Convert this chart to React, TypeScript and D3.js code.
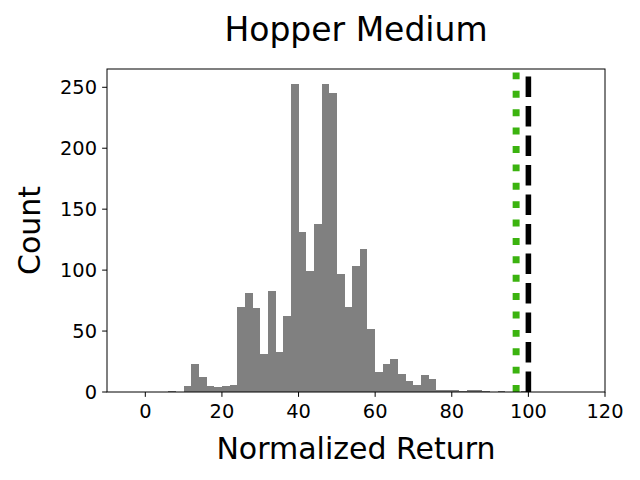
import React from "react";
import * as d3 from "d3";

const binStart = 6;
const binWidth = 2;
const counts = [
  1, 0, 5, 23, 12, 5, 4, 5, 6, 70, 81, 69, 31, 83, 33, 62, 253, 131, 99, 138,
  253, 245, 97, 70, 103, 117, 52, 16, 23, 27, 15, 9, 6, 14, 11, 2, 2, 2, 1, 2,
  2, 1, 0, 1, 0, 0, 1,
];
const xTicks = [0, 20, 40, 60, 80, 100, 120];
const yTicks = [0, 50, 100, 150, 200, 250];
const greenLine = 96.8;
const blackLine = 100;
const title = "Hopper Medium";
const xLabel = "Normalized Return";
const yLabel = "Count";

const W = 640;
const H = 480;
const m = { left: 107, right: 605, top: 69, bottom: 392 };
const font = "DejaVu Sans, sans-serif";

export default function App() {
  const x = d3.scaleLinear().domain([-10, 120]).range([m.left, m.right]);
  const y = d3.scaleLinear().domain([0, 265]).range([m.bottom, m.top]);
  const bins = counts.map((c, i) => ({ x0: binStart + i * binWidth, x1: binStart + (i + 1) * binWidth, c }));
  return (
    <svg width={W} height={H} style={{ display: "block", position: "absolute", left: 0, top: 0 }} fontFamily={font}>
      <rect width={W} height={H} fill="#fff" />
      <defs>
        <clipPath id="plot">
          <rect x={m.left} y={m.top} width={m.right - m.left} height={m.bottom - m.top} />
        </clipPath>
      </defs>
      <g shapeRendering="crispEdges">
        {bins.filter((b) => b.c > 0).map((b, i) => (
          <rect key={i} x={x(b.x0)} y={y(b.c)} width={x(b.x1) - x(b.x0)} height={y(0) - y(b.c)} fill="#808080" />
        ))}
      </g>
      <g clipPath="url(#plot)">
        <line x1={x(greenLine)} x2={x(greenLine)} y1={m.bottom} y2={m.top} stroke="#3bb30f" strokeWidth={6.94} strokeDasharray="6.94 11.45" />
        <line x1={x(blackLine)} x2={x(blackLine)} y1={m.bottom} y2={m.top} stroke="#000" strokeWidth={5.56} strokeDasharray="20.6 8.9" />
      </g>
      <rect x={m.left} y={m.top} width={m.right - m.left} height={m.bottom - m.top} fill="none" stroke="#000" strokeWidth={1} />
      {xTicks.map((t) => (
        <g key={t}>
          <line x1={x(t)} x2={x(t)} y1={m.bottom} y2={m.bottom + 4.86} stroke="#000" strokeWidth={1} />
          <text x={x(t)} y={418} fontSize={19.4} textAnchor="middle" fill="#000">{t}</text>
        </g>
      ))}
      {yTicks.map((t) => (
        <g key={t}>
          <line x1={m.left} x2={m.left - 4.86} y1={y(t)} y2={y(t)} stroke="#000" strokeWidth={1} />
          <text x={97} y={y(t) + 7} fontSize={19.4} textAnchor="end" fill="#000">{t}</text>
        </g>
      ))}
      <text x={(m.left + m.right) / 2} y={41} fontSize={33} textAnchor="middle" fill="#000">{title}</text>
      <text x={(m.left + m.right) / 2} y={459} fontSize={30} textAnchor="middle" fill="#000">{xLabel}</text>
      <text transform={`translate(40, ${(m.top + m.bottom) / 2}) rotate(-90)`} fontSize={30} textAnchor="middle" fill="#000">{yLabel}</text>
    </svg>
  );
}
